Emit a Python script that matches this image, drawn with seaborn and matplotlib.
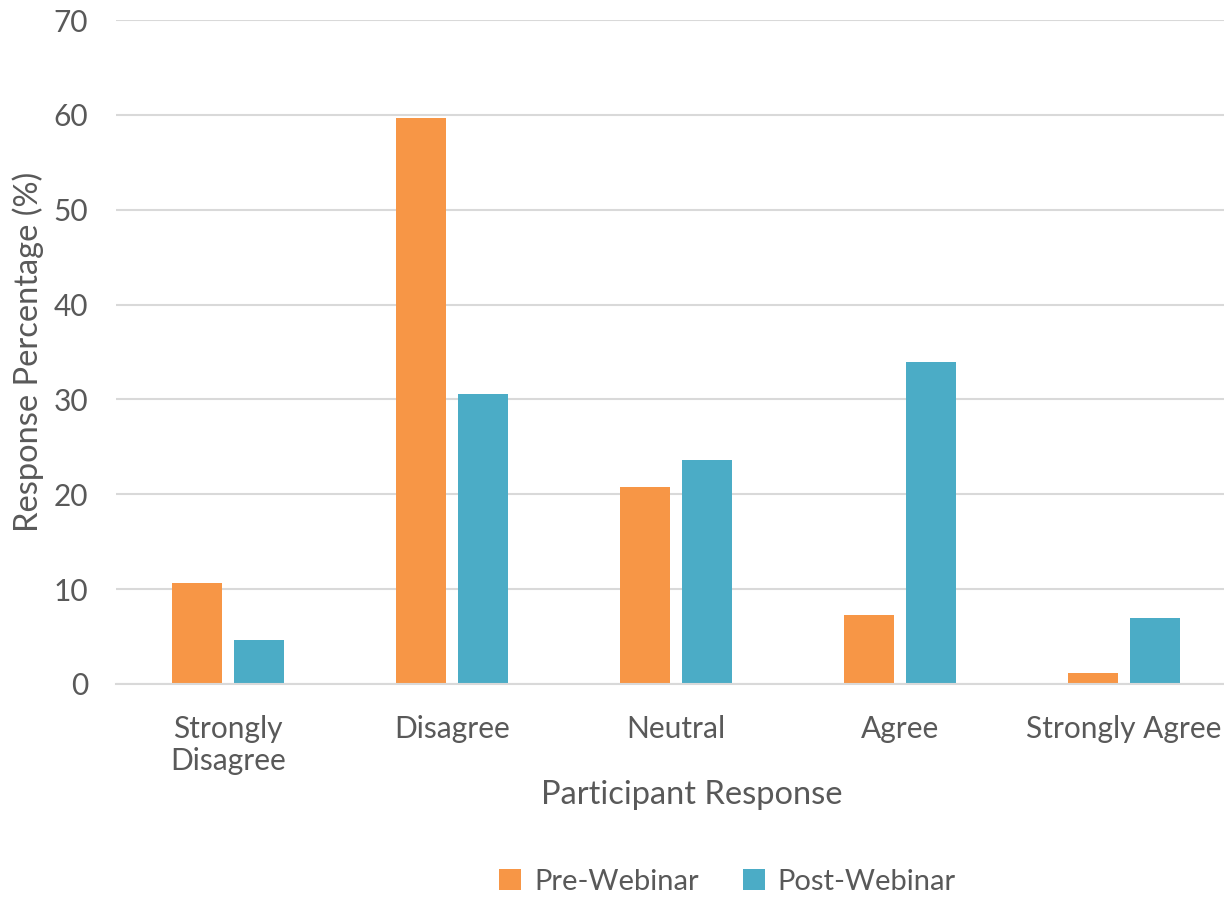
import pandas as pd
import matplotlib
matplotlib.use("Agg")
import matplotlib.pyplot as plt
import seaborn as sns

# dados
categories = ["Strongly\nDisagree", "Disagree", "Neutral", "Agree", "Strongly Agree"]
pre_webinar = [10.6, 59.7, 20.8, 7.3, 1.2]
post_webinar = [4.6, 30.6, 23.6, 33.9, 7.0]
series_names = ["Pre-Webinar", "Post-Webinar"]
colors = ["#F79646", "#4BACC6"]

df = pd.DataFrame({
    "response": categories * 2,
    "value": pre_webinar + post_webinar,
    "series": [series_names[0]] * len(categories) + [series_names[1]] * len(categories),
})

sns.set_style("white")
plt.rcParams["font.family"] = ["Lato", "DejaVu Sans"]
text_color = "#595959"
grid_color = "#D9D9D9"

fig = plt.figure(figsize=(12.24, 8.97), dpi=100)
ax = fig.add_axes([0.0948, 0.2375, 0.915, 0.7402])

sns.barplot(data=df, x="response", y="value", hue="series", palette=colors,
            saturation=1, width=0.56, gap=0.2, linewidth=0, ax=ax, legend=True)

ax.set_ylim(0, 70)
ax.set_yticks(range(0, 71, 10))
ax.yaxis.grid(True, color=grid_color, linewidth=1.5)
ax.set_axisbelow(True)
for s in ["top", "right", "left"]:
    ax.spines[s].set_visible(False)
ax.spines["bottom"].set_color(grid_color)
ax.spines["bottom"].set_linewidth(1.5)
ax.tick_params(axis="both", length=0, labelsize=21.5, colors=text_color)
ax.tick_params(axis="y", pad=20)
ax.tick_params(axis="x", pad=22)

ax.set_ylabel("Response Percentage (%)", fontsize=23.5, color=text_color)
ax.yaxis.set_label_coords(-0.064, 0.5)
ax.set_xlabel("Participant Response", fontsize=23.5, color=text_color)
ax.xaxis.set_label_coords(0.514, -0.145)

ax.legend(loc="center", bbox_to_anchor=(0.546, -0.298), ncol=2, frameon=False,
          fontsize=21, labelcolor=text_color, handlelength=0.75, handleheight=0.75,
          handletextpad=0.45, columnspacing=1.5)

plt.savefig("out.png", dpi=100)
